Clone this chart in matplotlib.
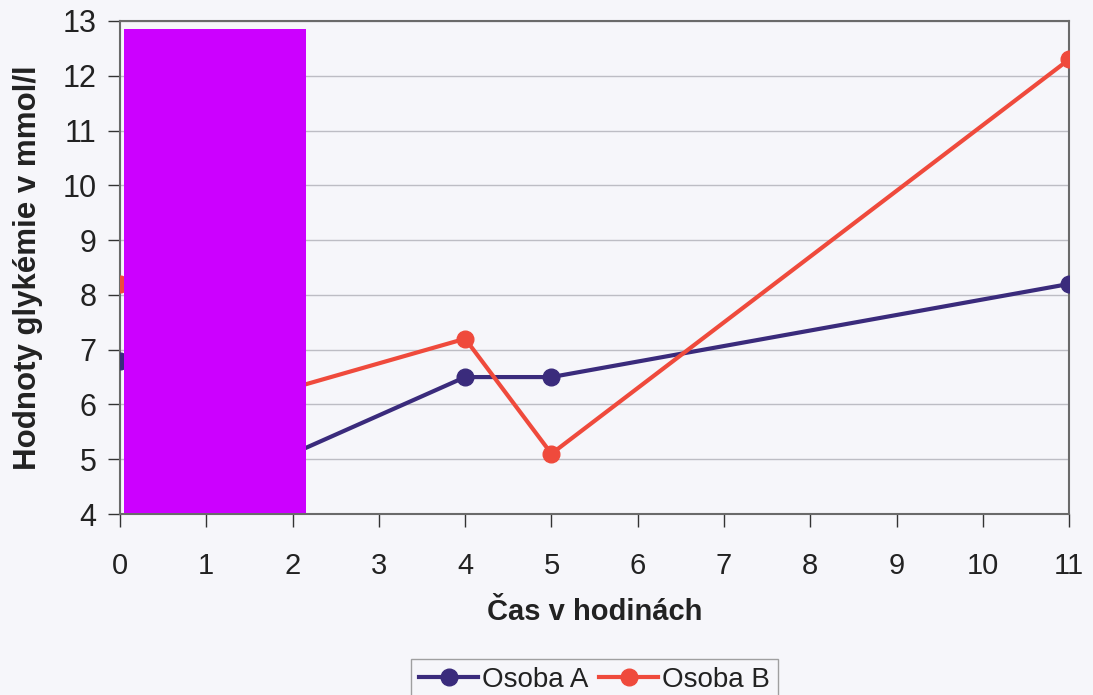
import matplotlib
matplotlib.use("Agg")
import matplotlib.pyplot as plt
from matplotlib.patches import Rectangle

plt.rcParams['font.family'] = ['Liberation Sans', 'DejaVu Sans']

# Glycaemia over the day (mmol/l)
hours = [0, 2, 4, 5, 11]
osoba_a = [6.8, 5.1, 6.5, 6.5, 8.2]
osoba_b = [8.2, 6.3, 7.2, 5.1, 12.3]
x_ticks = list(range(0, 12))
y_ticks = list(range(4, 14))

color_a = '#3a2b7c'
color_b = '#ef4a3c'
page_bg = '#f6f6fa'

fig = plt.figure(figsize=(10.93, 6.95), dpi=100, facecolor=page_bg)
ax = fig.add_axes([0.1098, 0.2604, 0.8684, 0.7094])
ax.set_facecolor(page_bg)

ax.plot(hours, osoba_a, color=color_a, lw=3, marker='o', ms=12,
        label='Osoba A', zorder=3)
ax.plot(hours, osoba_b, color=color_b, lw=3, marker='o', ms=12,
        label='Osoba B', zorder=3)

ax.set_xlim(0, 11)
ax.set_ylim(4, 13)
ax.set_xticks(x_ticks)
ax.set_yticks(y_ticks)
ax.tick_params(axis='both', colors='#333333', length=9, width=1,
               direction='out')
ax.tick_params(axis='x', labelsize=21, pad=18)
ax.tick_params(axis='y', labelsize=22, pad=8)
for lbl in ax.get_xticklabels() + ax.get_yticklabels():
    lbl.set_color('#222222')

ax.grid(axis='y', color='#bdbdc4', lw=1)
ax.set_axisbelow(True)
for s in ax.spines.values():
    s.set_color('#6a6a6a')
    s.set_linewidth(1.5)

ax.set_xlabel('Čas v hodinách', fontsize=21, fontweight='bold',
              color='#222222', labelpad=13)
ax.set_ylabel('Hodnoty glykémie v mmol/l', fontsize=22.5, fontweight='bold',
              color='#222222', labelpad=14)

# magenta block over the early hours
ax.add_patch(Rectangle((0.0042, 0.002), 0.192, 0.982, transform=ax.transAxes,
                       facecolor='#cc00ff', edgecolor='none', zorder=5,
                       clip_on=False))

leg = fig.legend(loc='upper center', bbox_to_anchor=(0.544, 0.052), ncol=2,
                 fontsize=20, frameon=True, fancybox=False, handlelength=2.1,
                 handletextpad=0.15, columnspacing=0.4, borderpad=0.3,
                 borderaxespad=0)
leg.get_frame().set_edgecolor('#8a8a8a')
leg.get_frame().set_facecolor(page_bg)
for t in leg.get_texts():
    t.set_color('#222222')

fig.savefig('out.png', dpi=100, facecolor=page_bg)
